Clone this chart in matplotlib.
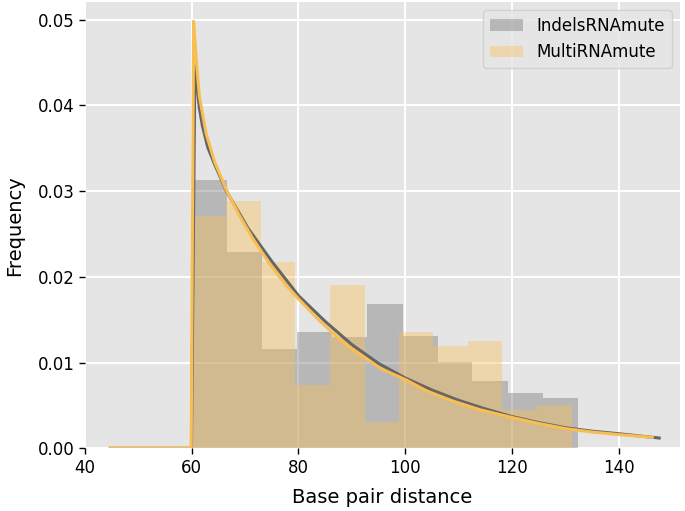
import numpy as np
import matplotlib
matplotlib.use('Agg')
import matplotlib.pyplot as plt

# histogram bin edges and densities
indels_edges = [60.0, 66.6, 73.2, 79.7, 86.3, 92.9, 99.5, 106.1, 112.6, 119.2, 125.8, 132.4]
indels_freq = [0.0313, 0.0229, 0.0116, 0.0136, 0.0130, 0.0168, 0.0131, 0.0101, 0.0079, 0.0064, 0.0059]

multi_edges = [60.0, 66.5, 72.9, 79.4, 85.9, 92.4, 98.8, 105.3, 111.8, 118.2, 124.7, 131.2]
multi_freq = [0.0271, 0.0288, 0.0217, 0.0074, 0.0190, 0.0031, 0.0136, 0.0119, 0.0125, 0.0045, 0.0051]

# fitted density curves
indels_fit_x = [44.8, 59.95, 60.6, 61.0, 61.4, 62.0, 63.0, 64.3, 66.5, 70.5, 75.0, 80.0, 85.0,
                90.0, 95.0, 100.0, 105.0, 110.0, 115.0, 120.0, 125.0, 130.0, 135.0, 140.0, 147.6]
indels_fit_y = [0.0, 0.0, 0.0446, 0.0423, 0.0398, 0.0376, 0.0351, 0.0331, 0.0300, 0.0257, 0.0218, 0.0178, 0.0148,
                0.0121, 0.0099, 0.0082, 0.0068, 0.0056, 0.0046, 0.0037, 0.0030, 0.0024, 0.0020, 0.0017, 0.0012]

multi_fit_x = [44.7, 59.9, 60.35, 60.85, 61.45, 62.7, 64.3, 66.5, 68.9, 71.4, 74.5, 77.7, 80.2,
               83.9, 87.6, 90.0, 95.4, 100.1, 104.0, 108.5, 114.0, 120.0, 125.0, 130.0, 135.0, 140.0, 146.3]
multi_fit_y = [0.0, 0.0, 0.0498, 0.0453, 0.0410, 0.0367, 0.0334, 0.0301, 0.0272, 0.0245, 0.0216, 0.0190, 0.0173,
               0.0149, 0.0128, 0.0116, 0.0093, 0.0080, 0.0067, 0.0056, 0.0045, 0.0036, 0.0029, 0.0023, 0.0019, 0.0016, 0.00128]

gray = '#737373'
orange = '#FBC156'

fig = plt.figure(figsize=(6.85, 5.11), dpi=100)
ax = fig.add_axes([0.1241, 0.1227, 0.8686, 0.8734])
ax.set_facecolor('#E5E5E5')
ax.set_axisbelow(True)
ax.grid(True, color='white', linewidth=1.4)
for s in ax.spines.values():
    s.set_visible(False)

# histograms
ax.bar(indels_edges[:-1], indels_freq, width=np.diff(indels_edges), align='edge',
       color=gray, alpha=0.4, linewidth=0, label='IndelsRNAmute')
ax.bar(multi_edges[:-1], multi_freq, width=np.diff(multi_edges), align='edge',
       color=orange, alpha=0.4, linewidth=0, label='MultiRNAmute')

# fitted curves
ax.plot(indels_fit_x, indels_fit_y, color='#666666', linewidth=2.2)
ax.plot(multi_fit_x, multi_fit_y, color='#F9BE52', linewidth=2.2)

ax.set_xlim(40.28, 151.5)
ax.set_ylim(0, 0.05205)
ax.set_xticks([40, 60, 80, 100, 120, 140])
ax.set_yticks([0.0, 0.01, 0.02, 0.03, 0.04, 0.05])
ax.tick_params(direction='out', length=4, width=1, colors='black', labelsize=12)

ax.set_xlabel('Base pair distance', fontsize=14, labelpad=8)
ax.set_ylabel('Frequency', fontsize=14, labelpad=10)

ax.legend(loc='upper right', fontsize=12, facecolor='#E5E5E5', edgecolor='#CCCCCC',
          framealpha=0.8)

fig.savefig('out.png', dpi=100)
